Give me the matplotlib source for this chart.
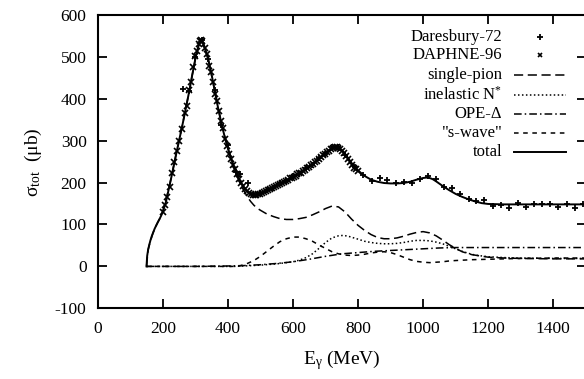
import matplotlib
matplotlib.use("Agg")
import matplotlib.pyplot as plt

plt.rcParams['font.family'] = ['Liberation Serif', 'DejaVu Serif']
plt.rcParams['mathtext.fontset'] = 'custom'
plt.rcParams['mathtext.rm'] = 'Liberation Serif'
plt.rcParams['mathtext.it'] = 'Liberation Serif:italic'
plt.rcParams['axes.unicode_minus'] = False

# ---------------- data ----------------
E_total = [150, 152, 155, 158, 162, 166, 170, 175, 180, 185, 190, 195, 200, 210, 220, 230, 240, 250,
           260, 270, 280, 290, 300, 305, 310, 315, 320, 325, 330, 340, 350, 360, 370, 380, 390, 400,
           410, 420, 430, 440, 450, 460, 470, 480, 490, 500, 520, 540, 560, 580, 600, 620, 640, 660,
           680, 700, 710, 720, 730, 740, 750, 760, 780, 800, 820, 840, 860, 880, 900, 920, 940, 960,
           980, 1000, 1010, 1020, 1030, 1040, 1060, 1080, 1100, 1120, 1140, 1160, 1180, 1200, 1250,
           1300, 1350, 1400, 1450, 1500]
sig_total = [0, 25, 40, 50, 62, 72, 80, 90, 98, 106, 113, 121, 130, 155, 190, 226, 264, 300,
             336, 374, 413, 455, 495, 513, 527, 535, 537, 532, 520, 493, 458, 418, 378, 342, 310, 282,
             257, 235, 216, 200, 188, 179, 173, 171, 171, 173, 180, 188, 197, 205, 213, 222, 232, 244,
             257, 270, 276, 281, 285, 283, 278, 269, 247, 229, 216, 207, 202, 199, 198, 198, 199, 202,
             207, 211, 212, 211, 208, 203, 192, 182, 173, 166, 160, 155, 151, 149, 148,
             148, 148, 148, 148, 148]

E_single = [150, 155, 160, 170, 180, 190, 200, 220, 240, 260, 280, 300, 310, 320, 330, 340, 360,
            380, 400, 420, 440, 450, 460, 470, 480, 490, 500, 520, 540, 560, 580, 600, 620, 640,
            660, 680, 700, 720, 740, 760, 780, 800, 820, 840, 860, 880, 900, 920, 940, 960, 980,
            1000, 1020, 1040, 1060, 1080, 1100, 1120, 1150, 1200, 1250, 1300, 1400, 1500]
sig_single = [0, 40, 55, 80, 98, 113, 130, 190, 264, 336, 413, 495, 527, 537, 520, 493, 418,
              342, 282, 234, 193, 180, 166, 155, 146, 139, 134, 125, 119, 114, 112, 112, 114, 117,
              123, 130, 138, 144, 142, 130, 113, 98, 86, 76, 69, 66, 66, 68, 72, 77, 81,
              83, 80, 73, 63, 52, 43, 35, 28, 22, 20, 19, 18, 18]

E_nstar = [150, 420, 450, 500, 550, 600, 620, 640, 660, 680, 700, 720, 740, 755, 770, 800, 820,
           840, 860, 880, 900, 920, 940, 960, 980, 1000, 1020, 1040, 1060, 1080, 1100, 1120, 1140,
           1160, 1200, 1250, 1300, 1400, 1500]
sig_nstar = [0, 0, 1, 3, 6, 11, 15, 21, 30, 43, 57, 68, 73, 74, 72, 65, 60,
             57, 55, 54, 54, 55, 57, 60, 62, 62, 61, 58, 54, 48, 42, 36, 31,
             27, 23, 21, 20, 19, 19]

E_ope = [150, 300, 400, 450, 500, 550, 600, 650, 700, 750, 800, 850, 900, 950, 1000, 1050, 1100,
         1200, 1300, 1400, 1500]
sig_ope = [0, 0, 1, 2, 4, 7, 11, 17, 24, 30, 33, 36, 38, 40, 42, 44, 45,
           45, 45, 45, 45]

E_swave = [150, 430, 440, 460, 480, 500, 520, 540, 560, 580, 600, 620, 640, 660, 680, 700, 720,
           740, 760, 780, 800, 820, 840, 860, 880, 900, 920, 940, 960, 980, 1000, 1020, 1040,
           1060, 1080, 1100, 1150, 1200, 1300, 1400, 1500]
sig_swave = [0, 0, 2, 7, 14, 24, 36, 48, 59, 66, 70, 70, 66, 60, 51, 43, 35,
             30, 27, 26, 27, 29, 32, 34, 35, 33, 28, 22, 16, 12, 10, 9, 10,
             11, 13, 14, 16, 17, 19, 20, 20]

E_daresbury = [262, 280, 300, 320, 340, 360, 380, 400, 425, 437, 462, 500, 520, 540, 560, 580,
               600, 620, 640, 660, 680, 700, 720, 740, 760, 791, 816, 842, 868, 890, 916, 940,
               965, 991, 1014, 1040, 1063, 1088, 1114, 1140, 1163, 1188, 1214, 1239, 1265, 1291,
               1317, 1342, 1365, 1391, 1416, 1442, 1468, 1491]
sig_daresbury = [424, 418, 500, 540, 495, 420, 338, 290, 225, 221, 200, 176, 183, 187, 199, 204,
                 215, 221, 235, 243, 259, 268, 284, 286, 266, 237, 217, 204, 212, 207, 200, 201,
                 200, 209, 215, 209, 189, 188, 172, 162, 155, 159, 144, 146, 139, 152,
                 142, 150, 150, 150, 142, 150, 140, 148]

E_daphne = [201, 207, 214, 221, 229, 236, 243, 251, 260, 268, 275, 282, 288, 292, 298, 304, 310,
            314, 318, 322, 330, 336, 343, 348, 355, 360, 366, 372, 378, 386, 392, 398, 404, 410,
            416, 422, 428, 434, 440, 446, 452, 458, 464, 470, 476, 482, 488, 494, 500, 506, 512,
            518, 524, 530, 536, 542, 548, 554, 560, 566, 572, 578, 584, 590, 596, 602, 608, 614,
            620, 626, 632, 638, 644, 650, 656, 662, 668, 674, 680, 686, 692, 698, 704, 710, 716,
            722, 728, 734, 740, 746, 752, 758, 764, 770, 776, 782, 788, 794, 800]
sig_daphne = [130, 147, 165, 190, 222, 250, 275, 300, 327, 365, 382, 420, 440, 475, 503, 515, 530,
              538, 540, 538, 522, 508, 478, 464, 440, 412, 395, 370, 348, 330, 305, 287, 268, 257,
              243, 232, 220, 208, 200, 192, 185, 180, 175, 172, 170, 171, 170, 172, 173, 176, 178,
              180, 182, 185, 186, 189, 192, 194, 197, 199, 202, 205, 207, 210, 212, 214, 216, 220,
              222, 224, 228, 231, 234, 238, 241, 245, 249, 252, 257, 261, 265, 269, 273, 276, 280,
              283, 285, 286, 283, 280, 276, 270, 264, 257, 250, 243, 236, 232, 228]

x_ticks = [0, 200, 400, 600, 800, 1000, 1200, 1400]
y_ticks = [-100, 0, 100, 200, 300, 400, 500, 600]

# ---------------- figure ----------------
W, H = 584, 379
fig = plt.figure(figsize=(W / 100, H / 100), dpi=100)
left, right, top, bottom = 97.7, 585.8, 15, 308.3
ax = fig.add_axes([left / W, 1 - bottom / H, (right - left) / W, (bottom - top) / H])
ax.set_xlim(0, 1500)
ax.set_ylim(-100, 600)

lw = 1.1
styles = {
    'single': dict(color='black', lw=lw, dashes=(6, 3)),
    'nstar': dict(color='black', lw=lw, dashes=(1, 1.6)),
    'ope': dict(color='black', lw=lw, dashes=(5, 2, 1, 2)),
    'swave': dict(color='black', lw=lw, dashes=(3, 3)),
    'total': dict(color='black', lw=1.4, linestyle='-'),
}
plus_style = dict(linestyle='none', marker='+', ms=5, mew=1.3, color='black')
cross_style = dict(linestyle='none', marker='x', ms=4, mew=1.2, color='black')

ax.plot(E_single, sig_single, **styles['single'])
ax.plot(E_nstar, sig_nstar, **styles['nstar'])
ax.plot(E_ope, sig_ope, **styles['ope'])
ax.plot(E_swave, sig_swave, **styles['swave'])
ax.plot(E_total, sig_total, **styles['total'])
ax.plot(E_daresbury, sig_daresbury, **plus_style)
ax.plot(E_daphne, sig_daphne, **cross_style)

ax.set_xticks(x_ticks)
ax.set_yticks(y_ticks)
ax.tick_params(direction='in', top=True, right=True, length=6.5, width=1.3,
               labelsize=12.5, pad=8)
ax.tick_params(axis='x', pad=9)
for s in ax.spines.values():
    s.set_linewidth(1.5)

ax.set_xlabel('E$_{\\mathrm{γ}}$ (MeV)', fontsize=14, labelpad=8)
ax.set_ylabel('σ$_{\\mathrm{tot}}$  (μb)', fontsize=14, labelpad=8)

# ---------------- legend (gnuplot style: text right-aligned, key on the right) ----------------
labels = ['Daresbury-72', 'DAPHNE-96', 'single-pion', 'inelastic N$^{*}$', 'OPE-Δ',
          '"s-wave"', 'total']
row_y = [0.926, 0.863, 0.795, 0.727, 0.664, 0.596, 0.533]
tx, hx0, hx1 = 0.829, 0.853, 0.959
for lab, yy in zip(labels, row_y):
    ax.text(tx, yy, lab, transform=ax.transAxes, ha='right', va='center', fontsize=12)
ax.plot([(hx0 + hx1) / 2], [row_y[0]], transform=ax.transAxes, clip_on=False,
        **dict(plus_style, ms=4.5))
ax.plot([(hx0 + hx1) / 2], [row_y[1]], transform=ax.transAxes, clip_on=False,
        **dict(cross_style, ms=3.5))
for key, yy in zip(['single', 'nstar', 'ope', 'swave', 'total'], row_y[2:]):
    ax.plot([hx0, hx1], [yy, yy], transform=ax.transAxes, **styles[key])

fig.savefig('out.png', dpi=100)
